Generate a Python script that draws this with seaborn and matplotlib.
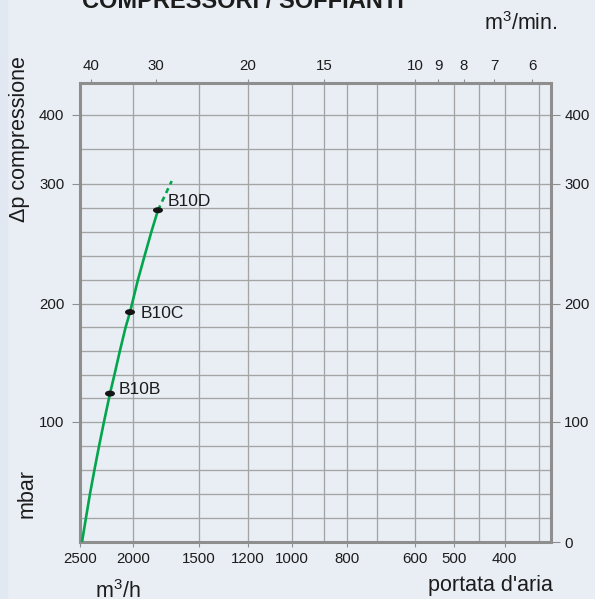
import numpy as np
import matplotlib
matplotlib.use("Agg")
import matplotlib.pyplot as plt
from matplotlib.path import Path
from matplotlib.markers import MarkerStyle
from matplotlib.transforms import Affine2D
from matplotlib.patches import Rectangle
from matplotlib.ticker import NullLocator
import pandas as pd
import seaborn as sns

# B10 characteristic curve: flow (m3/h) vs pressure (mbar)
flow_curve = [2481, 2444, 2406, 2364, 2320, 2274, 2217, 2175, 2124, 2070, 2028,
              1957, 1899, 1840, 1786]
dp_curve = [0, 20, 40, 60, 80, 100, 124, 140, 160, 180, 193, 220, 240, 260, 278]
# dashed extension past B10D
flow_ext = [1786, 1690]
dp_ext = [278, 304]

# model points on the curve
models = ["B10B", "B10C", "B10D"]
model_flow = [2217, 2028, 1786]
model_dp = [124, 193, 278]

# axis ticks / grid
flow_ticks = [2500, 2000, 1500, 1200, 1000, 800, 600, 500, 400]
flow_grid = [2000, 1500, 1200, 1000, 900, 800, 700, 600, 500, 450, 400, 350]
min_ticks = [40, 30, 20, 15, 10, 9, 8, 7, 6]
dp_ticks_left = [100, 200, 300, 400]
dp_ticks_right = [0, 100, 200, 300, 400]
dp_grid = [20, 40, 60, 80, 120, 140, 160, 180, 220, 240, 260, 280, 350]

# the printed grid is not linear, spacing read off the sheet (grid units)
x_knot_val = [0, 300, 350, 400, 450, 500, 600, 700, 800, 900, 1000, 1200, 1500, 1800, 2000, 2500, 5000]
x_knot_pos = [777, 573, 539, 505, 479, 454, 415, 377, 347, 324, 292, 248, 199, 156, 133, 80, -185]
y_knot_val = [-100, 0, 100, 200, 300, 400, 500]
y_knot_pos = [-120, 0, 120, 238, 358, 427, 496]


def fx(v):
    return -np.interp(v, x_knot_val, x_knot_pos)


def ifx(q):
    return np.interp(-np.asarray(q), x_knot_pos[::-1], x_knot_val[::-1])


def fy(v):
    return np.interp(v, y_knot_val, y_knot_pos)


def ify(q):
    return np.interp(q, y_knot_pos, y_knot_val)


bg = "#e9eef5"
spine_c = "#8e8e8e"
grid_c = "#a4a4a4"
text_c = "#1c1c1c"
green = "#03a64c"

sns.set_theme(style="ticks", rc={"figure.facecolor": bg, "axes.facecolor": bg,
                                 "text.color": text_c, "xtick.color": text_c,
                                 "ytick.color": text_c})
plt.rcParams["font.family"] = ["Liberation Sans", "DejaVu Sans"]
plt.rcParams["mathtext.default"] = "regular"

W, H = 595, 599
fig = plt.figure(figsize=(W / 100, H / 100), dpi=100)
fig.add_artist(Rectangle((0, 0), 7 / W, 1, transform=fig.transFigure,
                         color="#e1e8f2", zorder=0))
ax = fig.add_axes([80 / W, 1 - 542 / H, 471 / W, 459 / H])

ax.set_xscale("function", functions=(fx, ifx))
ax.set_yscale("function", functions=(fy, ify))

df = pd.DataFrame({"flow": flow_curve, "dp": dp_curve})
sns.lineplot(data=df, x="flow", y="dp", sort=False, color=green, lw=1.9, ax=ax, zorder=3)
sns.lineplot(x=flow_ext, y=dp_ext, sort=False, color=green, lw=1.9, ax=ax,
             linestyle=(0, (2, 1.6)), zorder=3)

ell = Path.unit_circle().transformed(Affine2D().scale(1.0, 0.6))
sns.scatterplot(x=model_flow, y=model_dp, marker=MarkerStyle(ell), s=52,
                color="#151515", edgecolor="none", ax=ax, zorder=5)

label_offsets = {"B10B": (6.5, 3.2), "B10C": (8, -1.1), "B10D": (7.2, 6.5)}
for name, fl, dp in zip(models, model_flow, model_dp):
    ax.annotate(name, (fl, dp), xytext=label_offsets[name], textcoords="offset points",
                ha="left", va="center", fontsize=12.5, color=text_c)

ax.set_xlim(2500, 332)
ax.set_ylim(0, 446)
ax.set_xticks(flow_ticks)
ax.set_xticklabels([str(v) for v in flow_ticks])
ax.set_xticks(flow_grid, minor=True)
ax.set_yticks(dp_ticks_left)
ax.set_yticklabels([str(v) for v in dp_ticks_left])
ax.set_yticks(dp_grid, minor=True)
ax.grid(which="both", color=grid_c, lw=0.95)
ax.set_axisbelow(True)
ax.tick_params(which="minor", length=0)
ax.tick_params(axis="y", which="major", length=5.8, width=0.8, color=spine_c,
               pad=5.5, labelsize=10.8)
ax.tick_params(axis="x", which="major", length=3.6, width=0.8, color=spine_c,
               pad=3.6, labelsize=10.8)
ax.set_xlabel("")
ax.set_ylabel("")
for s in ax.spines.values():
    s.set_color(spine_c)
    s.set_linewidth(2.2)

# top axis in m3/min
axt = ax.twiny()
axt.set_xscale("function", functions=(fx, ifx))
axt.set_xlim(2500, 332)
axt.set_xticks([m * 60 for m in min_ticks])
axt.set_xticklabels([str(m) for m in min_ticks])
axt.xaxis.set_minor_locator(NullLocator())
axt.tick_params(axis="x", length=3, width=0.8, color=spine_c, pad=4.3, labelsize=10.8)

# right pressure axis
axr = ax.twinx()
axr.set_yscale("function", functions=(fy, ify))
axr.set_ylim(0, 446)
axr.set_yticks(dp_ticks_right)
axr.set_yticklabels([str(v) for v in dp_ticks_right])
axr.yaxis.set_minor_locator(NullLocator())
axr.tick_params(axis="y", length=6.5, width=0.8, color=spine_c, pad=3, labelsize=10.8)
for a in (axt, axr):
    for s in a.spines.values():
        s.set_visible(False)

# title is cropped at the top edge in the original sheet
fig.text(82 / W, 1 - 8 / H, "COMPRESSORI / SOFFIANTI", fontsize=17,
         fontweight="bold", ha="left", va="baseline")
fig.text(484 / W, 1 - 30 / H, "m$^3$/min.", fontsize=15.5, ha="left", va="baseline")
fig.text(20 / W, 1 - 139 / H, "\u0394p compressione", fontsize=15.5, rotation=90,
         ha="center", va="center")
fig.text(27 / W, 1 - 494 / H, "mbar", fontsize=15.5, rotation=90, ha="center", va="center")
fig.text(95 / W, 1 - 598 / H, "m$^3$/h", fontsize=15.5, ha="left", va="baseline")
fig.text(553 / W, 1 - 591 / H, "portata d'aria", fontsize=15.5, ha="right", va="baseline")

fig.savefig("out.png", dpi=100, facecolor=bg)
